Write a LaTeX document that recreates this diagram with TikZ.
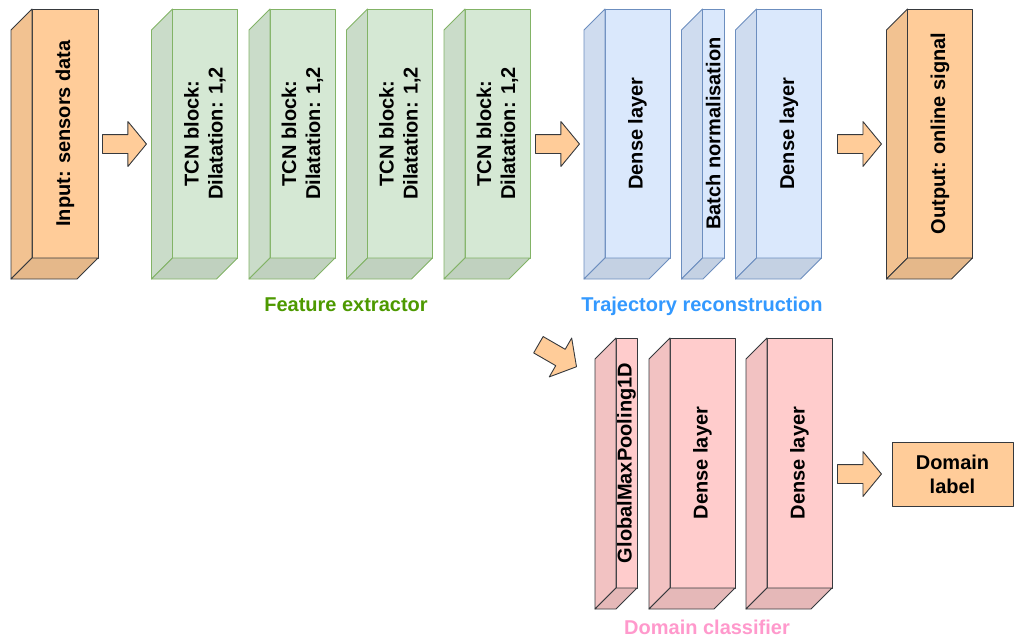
\documentclass[tikz,border=0pt]{standalone}
\usepackage{fontspec}
\setmainfont{Liberation Sans}
\usetikzlibrary{positioning, calc, shapes.arrows}
\definecolor{orangefill}{HTML}{FFCC99}
\definecolor{darkline}{HTML}{36393D}
\definecolor{greenfill}{HTML}{D5E8D4}
\definecolor{greenline}{HTML}{82B366}
\definecolor{bluefill}{HTML}{DAE8FC}
\definecolor{blueline}{HTML}{6C8EBF}
\definecolor{pinkfill}{HTML}{FFCCCC}
\definecolor{featgreen}{HTML}{4D9900}
\definecolor{trajblue}{HTML}{3399FF}
\definecolor{dompink}{HTML}{FF99CC}
% side and bottom faces of a cuboid behind a front-face node
\newcommand{\cubesides}[3]{%
  \filldraw[fill=#2!95!black, draw=#3] (#1.north west) -- ++(-21,21) -- ($(#1.south west)+(-21,21)$) -- (#1.south west) -- cycle;
  \filldraw[fill=#2!90!black, draw=#3] (#1.south west) -- ++(-21,21) -- ($(#1.south east)+(-21,21)$) -- (#1.south east) -- cycle;}

\begin{document}
\begin{tikzpicture}[x=1pt,y=-1pt,line width=0.9pt,line join=round,
  font=\fontsize{20}{24}\selectfont\bfseries,
  face/.style={draw, outer sep=0pt, inner sep=0pt, minimum height=249pt, minimum width=65pt},
  orangebox/.style={face, fill=orangefill, draw=darkline},
  greenbox/.style={face, fill=greenfill, draw=greenline},
  bluebox/.style={face, fill=bluefill, draw=blueline},
  pinkbox/.style={face, fill=pinkfill, draw=darkline, minimum height=250pt},
  facetext/.style={rotate=90, align=center},
  blockarrow/.style={single arrow, draw=darkline, fill=orangefill, inner xsep=0pt, inner ysep=9pt,
    single arrow head extend=13pt, single arrow tip angle=101, minimum height=44pt, anchor=tail},
  title/.style={anchor=base}]
  \useasboundingbox (0,0) rectangle (1015,638);

  % input
  \node[orangebox, minimum width=66pt] (in) at (65,133.5) {};
  \node[facetext] (in-t) at (in) {Input: sensors data};
  \cubesides{in}{orangefill}{darkline}

  % feature extractor
  \node[greenbox, right=74.5pt of in] (tcn1) {};
  \foreach \i/\j in {2/1,3/2,4/3} \node[greenbox, right=32.5pt of tcn\j] (tcn\i) {};
  \foreach \i in {1,...,4} {
    \node[facetext] (tcn\i-t) at (tcn\i) {TCN block:\\ Dilatation: 1,2};
    \cubesides{tcn\i}{greenfill}{greenline}
  }

  % trajectory reconstruction
  \node[bluebox, right=75pt of tcn4] (dense1) {};
  \node[bluebox, minimum width=21.5pt, right=32.5pt of dense1] (bn) {};
  \node[bluebox, right=32.5pt of bn] (dense2) {};
  \node[facetext] (dense1-t) at (dense1) {Dense layer};
  \node[facetext] (bn-t) at (bn) {Batch normalisation};
  \node[facetext] (dense2-t) at (dense2) {Dense layer};
  \foreach \n in {dense1,bn,dense2} {\cubesides{\n}{bluefill}{blueline}}

  % output
  \node[orangebox, right=86pt of dense2] (out) {};
  \node[facetext] (out-t) at (out) {Output: online signal};
  \cubesides{out}{orangefill}{darkline}

  % domain classifier
  \node[pinkbox, minimum width=21pt] (gmp) at (626.5,463) {};
  \node[pinkbox, right=33pt of gmp] (dc1) {};
  \node[pinkbox, right=32pt of dc1] (dc2) {};
  \node[facetext] (gmp-t) at (gmp) {GlobalMaxPooling1D};
  \node[facetext] (dc1-t) at (dc1) {Dense layer};
  \node[facetext] (dc2-t) at (dc2) {Dense layer};
  \foreach \n in {gmp,dc1,dc2} {\cubesides{\n}{pinkfill}{darkline}}

  \node[draw=darkline, fill=orangefill, minimum width=121pt, minimum height=64pt, align=center] (dom) at (952.5,474) {Domain\\ label};

  % block arrows
  \node[blockarrow] (a1) at (102,144) {};
  \node[blockarrow] (a2) at (535,144) {};
  \node[blockarrow] (a3) at (837,144) {};
  \node[blockarrow] (a4) at (837,474) {};
  \node[blockarrow, rotate=-30] (a5) at (538,344.5) {};

  % group titles
  \node[title, text=featgreen] (fe-title) at (346,311.7) {Feature extractor};
  \node[title, text=trajblue] (tr-title) at (702,311.7) {Trajectory reconstruction};
  \node[title, text=dompink] (dc-title) at (707,634.5) {Domain classifier};
\end{tikzpicture}
\end{document}
